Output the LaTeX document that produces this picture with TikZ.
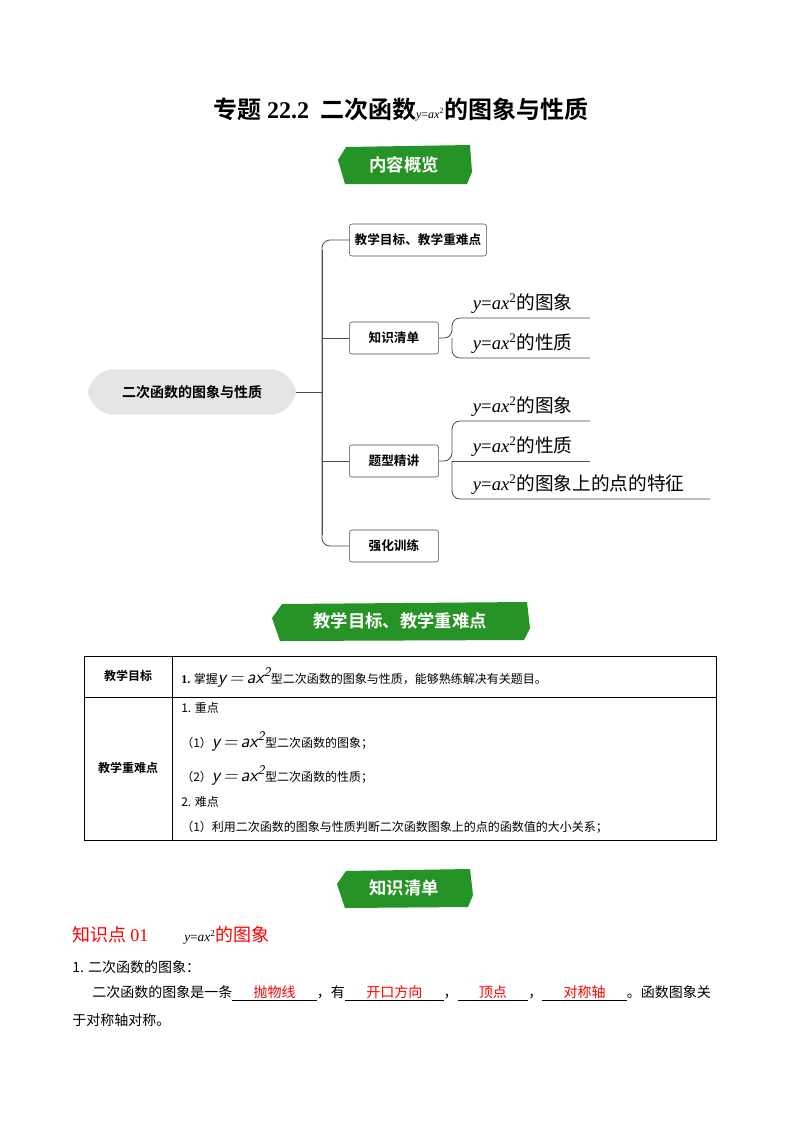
\documentclass[tikz,border=0pt]{standalone}
\usepackage{fontspec}
\setmainfont{Liberation Serif}
\newfontfamily\cjk{Noto Sans CJK SC}
\newfontfamily\cjkb{Noto Sans CJK SC Bold}
\newcommand{\yax}{{\rmfamily\itshape y}{\rmfamily =}{\rmfamily\itshape ax}\textsuperscript{\rmfamily 2}}
\newcommand{\blank}[1]{\underline{\hbox to 16pt{}\textcolor{red}{#1}\hbox to 16pt{}}}
\begin{document}
\begin{tikzpicture}[x=0.75pt,y=-0.75pt,
  banner/.style={fill=green!50!black!85!white},
  btxt/.style={text=white,font=\cjkb\fontsize{13}{13}\selectfont},
  mbox/.style={draw=black!70,rounded corners=2pt,font=\cjkb\fontsize{9.5}{10}\selectfont,minimum height=24pt,inner sep=4pt},
  leaf/.style={anchor=south west,font=\cjk\fontsize{14}{15}\selectfont,inner sep=2pt},
  ln/.style={draw=black!70,line width=0.6pt},
  cell/.style={font=\cjk\fontsize{9}{11}\selectfont,anchor=west,inner sep=0pt}]
\useasboundingbox (0,0) rectangle (800,1132);
\fill[white] (0,0) rectangle (800,1132);
% title
\node (title) at (401,110) {\cjkb\fontsize{18}{20}\selectfont 专题 {\bfseries\rmfamily 22.2}\ \ 二次函数{\fontsize{9}{9}\selectfont\cjk\yax}的图象与性质};
% banner 1
\fill[banner] (346,147)--(470,145)--(472,172)--(467,184)--(345,184)--(338,160)--cycle;
\node[btxt] (b1) at (404,165) {内容概览};
% mind map
\node[fill=black!10,rounded corners=20pt,minimum width=156pt,minimum height=34pt,font=\cjkb\fontsize{10.5}{11}\selectfont] (root) at (192,392) {二次函数的图象与性质};
\coordinate (t) at (322,392);
\draw[ln] (root.east) -- (t);
\draw[ln] (322,250) -- (322,535);
\draw[ln,rounded corners=6pt] (t) -- (322,240) -- (349,240);
\draw[ln,rounded corners=6pt] (t) -- (322,546) -- (349,546);
\node[mbox,anchor=west] (m1) at (349,240) {教学目标、教学重难点};
\node[mbox,anchor=west,minimum width=67pt] (m2) at (349,338) {知识清单};
\node[mbox,anchor=west,minimum width=67pt] (m3) at (349,461) {题型精讲};
\node[mbox,anchor=west,minimum width=67pt] (m4) at (349,546) {强化训练};
\draw[ln] (322,338) -- (m2.west);
\draw[ln] (322,461) -- (m3.west);
% leaves of m2
\draw[ln,rounded corners=6pt] (m2.east) -- (452,338) -- (452,318) -- (590,318);
\draw[ln,rounded corners=6pt] (452,338) -- (452,358) -- (590,358);
\node[leaf] (l1) at (470,316) {\yax 的图象};
\node[leaf] (l2) at (470,356) {\yax 的性质};
% leaves of m3
\draw[ln,rounded corners=6pt] (m3.east) -- (452,461) -- (452,421) -- (590,421);
\draw[ln] (452,461) -- (590,461);
\draw[ln,rounded corners=6pt] (452,461) -- (452,499) -- (710,499);
\node[leaf] (l3) at (470,419) {\yax 的图象};
\node[leaf] (l4) at (470,459) {\yax 的性质};
\node[leaf] (l5) at (470,497) {\yax 的图象上的点的特征};
% banner 2
\fill[banner] (282,604)--(527,602)--(530,628)--(524,640)--(280,641)--(272,618)--cycle;
\node[btxt] (b2) at (400,621) {教学目标、教学重难点};
% table
\draw[line width=0.7pt] (84,656) rectangle (716,840);
\draw[line width=0.7pt] (172,656) -- (172,840);
\draw[line width=0.7pt] (84,697) -- (716,697);
\node[font=\cjkb\fontsize{9}{10}\selectfont] (c1) at (128,676) {教学目标};
\node[font=\cjkb\fontsize{9}{10}\selectfont] (c2) at (128,768) {教学重难点};
\node[cell] (r1) at (181,677) {\textbf{\rmfamily 1.} 掌握{\fontsize{14}{14}\selectfont\sffamily\itshape y\,=\,ax\textsuperscript{2}}型二次函数的图象与性质，能够熟练解决有关题目。};
\node[cell] (r2) at (181,708) {1. 重点};
\node[cell] (r3) at (181,741) {（1）{\fontsize{14}{14}\selectfont\sffamily\itshape y\,=\,ax\textsuperscript{2}}型二次函数的图象；};
\node[cell] (r4) at (181,775) {（2）{\fontsize{14}{14}\selectfont\sffamily\itshape y\,=\,ax\textsuperscript{2}}型二次函数的性质；};
\node[cell] (r5) at (181,802) {2. 难点};
\node[cell] (r6) at (181,827) {（1）利用二次函数的图象与性质判断二次函数图象上的点的函数值的大小关系；};
% banner 3
\fill[banner] (346,871)--(470,869)--(473,895)--(468,907)--(345,908)--(337,884)--cycle;
\node[btxt] (b3) at (404,888) {知识清单};
% text
\node[anchor=west,inner sep=0pt,text=red,font=\cjk\fontsize{13.5}{14}\selectfont] (k1) at (72,935) {知识点 {\rmfamily 01}\qquad\textcolor{black}{{\fontsize{10}{10}\selectfont\yax}}的图象};
\node[cell,font=\cjk\fontsize{10.5}{12}\selectfont] (p1) at (72,967) {1. 二次函数的图象：};
\node[cell,font=\cjk\fontsize{10.5}{12}\selectfont] (p2) at (92,993) {二次函数的图象是一条\blank{抛物线}，有\blank{开口方向}，\blank{顶点}，\blank{对称轴}。函数图象关};
\node[cell,font=\cjk\fontsize{10.5}{12}\selectfont] (p3) at (72,1020) {于对称轴对称。};
\end{tikzpicture}
\end{document}
